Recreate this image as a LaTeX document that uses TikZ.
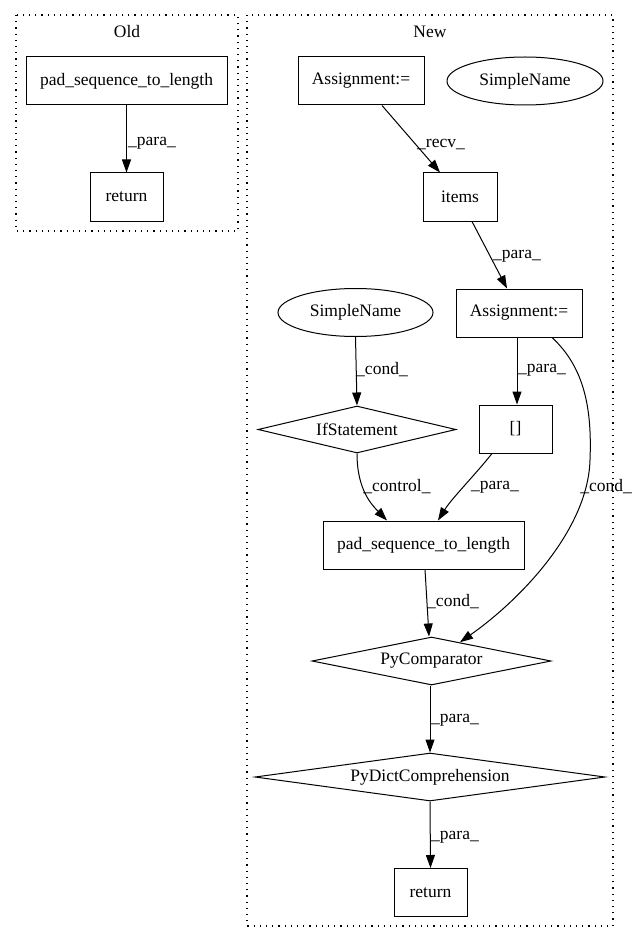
\documentclass[tikz,border=0pt]{standalone}
\usepackage{fontspec}
\setmainfont{Liberation Serif}
\usetikzlibrary{shapes.geometric,arrows.meta}
\begin{document}
\begin{tikzpicture}[x=1pt,y=-1pt,
  every node/.style={font=\fontsize{17.5}{20}\selectfont},
  box/.style={draw,line width=1pt,rectangle,minimum height=48pt,inner sep=0pt},
  ell/.style={draw,line width=1pt,ellipse,minimum height=48pt,inner sep=0pt},
  dia/.style={draw,line width=1pt,diamond,inner sep=0pt},
  arr/.style={line width=1pt,-{Triangle[length=13pt,width=9pt]}},
  lbl/.style={inner sep=0pt},
  cluster/.style={draw,line width=1.2pt,dash pattern=on 1.2pt off 5pt}]
\useasboundingbox (0,0) rectangle (641,944);
% clusters
\draw[cluster] (16,15) rectangle (238,231);
\draw[cluster] (247,15) rectangle (613,926);
\node (told) at (127,32) {Old};
\node (tnew) at (430,32) {New};
% Old
\node[box,minimum width=201pt] (oldpad) at (126.5,81) {pad\_sequence\_to\_length};
\node[box,minimum width=73pt] (oldret) at (126.5,197) {return};
% New
\node[box,minimum width=126pt] (a1) at (361,81) {Assignment:=};
\node[ell,minimum width=156pt] (sn1) at (525,81) {SimpleName};
\node[box,minimum width=74pt] (items) at (460,197) {items};
\node[box,minimum width=126pt] (a2) at (519,313) {Assignment:=};
\node[ell,minimum width=155pt] (sn2) at (355.5,312.5) {SimpleName};
\node[dia,aspect=4.2,minimum width=198pt,minimum height=47pt] (if) at (357,429.5) {IfStatement};
\node[box,minimum width=73pt] (br) at (515.5,429) {[]};
\node[box,minimum width=201pt] (pad) at (423.5,545) {pad\_sequence\_to\_length};
\node[dia,aspect=5,minimum width=239pt,minimum height=48pt] (cmp) at (431.5,661) {PyComparator};
\node[dia,aspect=7.3,minimum width=350pt,minimum height=48pt] (dict) at (430,777) {PyDictComprehension};
\node[box,minimum width=73pt] (ret) at (430.5,892.5) {return};
% edges
\draw[arr] (oldpad.south) -- (oldret.north);
\draw[arr] ([xshift=21pt]a1.south) -- ([xshift=-20pt]items.north);
\draw[arr] ([xshift=12pt]items.south) -- ([xshift=-12pt]a2.north);
\draw[arr] ([xshift=-2pt]a2.south) -- ([xshift=1.5pt]br.north);
\draw[arr] (sn2.south) -- (if.north);
\draw[arr] (if.south) .. controls (357,490) and (372,505) .. ([xshift=-36.5pt]pad.north);
\draw[arr] ([xshift=-23.5pt]br.south) .. controls (475,475) and (452,498) .. ([xshift=14.5pt]pad.north);
\coordinate (c1) at (590,460);
\draw[arr] ([xshift=33pt]a2.south) .. controls (585,368) and (592,410) .. (c1)
  .. controls (588,530) and (520,600) .. ([xshift=28.5pt,yshift=-5.7pt]cmp.north);
\draw[arr] ([xshift=1.5pt]pad.south) -- ([xshift=-2.5pt]cmp.north);
\draw[arr] ([xshift=-1.5pt]cmp.south) -- (dict.north);
\draw[arr] (dict.south) -- (ret.north);
% labels
\node[lbl] (l1) at (152,143) {\_para\_};
\node[lbl] (l2) at (441,145) {\_recv\_};
\node[lbl] (l2b) at (517,256) {\_para\_};
\node[lbl] (l3) at (382,370) {\_cond\_};
\node[lbl] (l4) at (542,370) {\_para\_};
\node[lbl] (l5) at (397,487) {\_control\_};
\node[lbl] (l6) at (495,487) {\_para\_};
\node[lbl] (l7) at (606,487) {\_cond\_};
\node[lbl] (l8) at (453,602) {\_cond\_};
\node[lbl] (l9) at (455,720) {\_para\_};
\node[lbl] (l10) at (455,837) {\_para\_};
\end{tikzpicture}
\end{document}
